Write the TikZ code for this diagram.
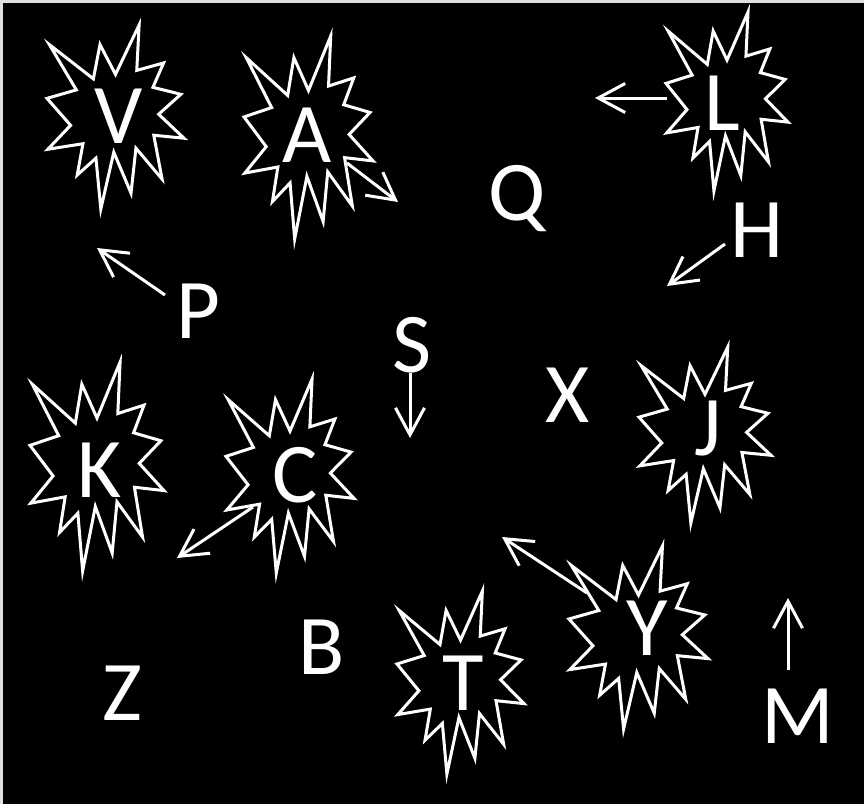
\documentclass[tikz,border=0pt]{standalone}
\usepackage{fontspec}
\setmainfont{Carlito}
\usetikzlibrary{arrows.meta}
\newcommand\sealat[4]{%
  \draw[seal, shift={(#1,#2)}, xscale=#3/100, yscale=#4/100]
    (50,26.85) -- (67.23,0) -- (65.53,24.65) -- (85.09,20.63) -- (77.32,33.86)
    -- (97.67,37.67) -- (81.51,48.50) -- (100,61.53) -- (77.95,59.92)
    -- (84.00,83.77) -- (64.91,66.93) -- (61.33,91.38) -- (48.76,69.14)
    -- (39.28,100) -- (35.72,72.35) -- (22.05,81.56) -- (26.24,64.52)
    -- (0.625,67.53) -- (17.23,54.51) -- (0,39.88) -- (21.42,35.26)
    -- (1.71,10.63) -- (33.85,29.26) -- (38.67,10.63) -- cycle;}
\begin{document}
\begin{tikzpicture}[x=1pt,y=-1pt,
  seal/.style={draw=white, line width=3pt, line join=miter, fill=black},
  lbl/.style={text=white, font=\fontsize{85}{90}\selectfont, inner sep=0pt, anchor=base},
  arr/.style={draw=white, line width=3pt, -{Straight Barb[length=27pt,width=29pt]}}]
\useasboundingbox (0,0) rectangle (864,804);
\fill[gray!25] (0,0) rectangle (864,804);
\fill[black] (3,3) rectangle (864,804);
% starbursts (left, top, width, height)
\sealat{47}{25}{137}{184}
\sealat{244}{36}{129}{203}
\sealat{666}{12}{122}{179}
\sealat{30}{362}{134}{209}
\sealat{226}{379}{128}{194}
\sealat{639}{347}{132}{176}
\sealat{397}{591}{127}{183}
\sealat{569}{546}{139}{183}
% letters
\node[lbl] (V) at (118.5,143) {V};
\node[lbl] (A) at (307,162) {A};
\node[lbl] (L) at (722,130) {L};
\node[lbl] (Q) at (517,220) {Q};
\node[lbl] (H) at (757,257) {H};
\node[lbl] (P) at (198,338) {P};
\node[lbl] (S) at (412,372) {S};
\node[lbl] (X) at (568,422) {X};
\node[lbl] (K) at (100,497) {K};
\node[lbl] (C) at (295,502) {C};
\node[lbl] (J) at (708,455) {J};
\node[lbl] (T) at (463,710) {T};
\node[lbl] (Y) at (647,655) {Y};
\node[lbl] (B) at (322,674) {B};
\node[lbl] (Z) at (122,720) {Z};
\node[lbl] (M) at (798,743) {M};
% arrow ends
\coordinate (a1) at (347,163); \coordinate (a2) at (398,202);
\coordinate (l1) at (667,98);  \coordinate (l2) at (595,98);
\coordinate (h1) at (725,244); \coordinate (h2) at (667,286);
\coordinate (p1) at (165,295); \coordinate (p2) at (97,248);
\coordinate (s1) at (410,373); \coordinate (s2) at (410,438);
\coordinate (c1) at (253,507); \coordinate (c2) at (177,558);
\coordinate (y1) at (587,593); \coordinate (y2) at (502,537);
\coordinate (m1) at (788,670); \coordinate (m2) at (788,598);
\draw[arr] (a1) -- (a2);
\draw[arr] (l1) -- (l2);
\draw[arr] (h1) -- (h2);
\draw[arr] (p1) -- (p2);
\draw[arr] (s1) -- (s2);
\draw[arr] (c1) -- (c2);
\draw[arr] (y1) -- (y2);
\draw[arr] (m1) -- (m2);
\end{tikzpicture}
\end{document}
